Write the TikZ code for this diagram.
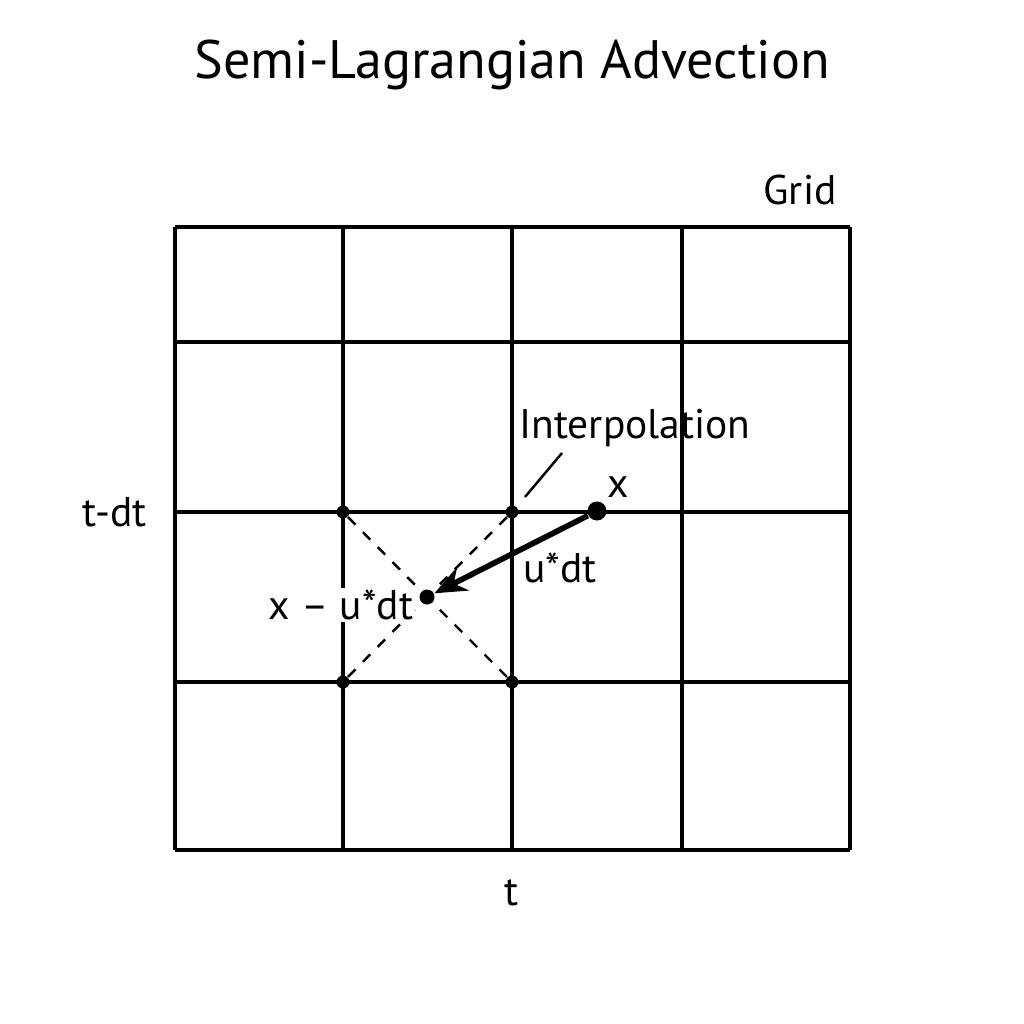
\documentclass[tikz,border=0pt]{standalone}
\usepackage{fontspec}
\setmainfont{PT Sans}
\usetikzlibrary{arrows.meta}

\tikzset{
  gridline/.style={line width=1.1pt},
  smalldot/.style={circle, fill=black, inner sep=0pt, minimum size=1.3mm},
  label/.style={font=\fontsize{11.8}{14}\selectfont}
}

\begin{document}
\begin{tikzpicture}[x=0.1mm, y=-0.1mm]
\useasboundingbox (0,0) rectangle (1024,1024);

\node[font=\fontsize{15.4}{19}\selectfont] (title) at (512,65) {Semi-Lagrangian Advection};
\node[label] (gridlbl) at (800,190) {Grid};

% the grid
\foreach \gx in {175,343,512,682,850}
  \draw[gridline] (\gx,227) -- (\gx,850);
\foreach \gy in {227,342,512,682,850}
  \draw[gridline] (175,\gy) -- (850,\gy);

\node[label] (tdt) at (115,512) {t-dt};
\node[label] (tnow) at (512,893) {t};

% neighbouring grid points
\node[smalldot] (nw) at (343,512) {};
\node[smalldot] (ne) at (512,512) {};
\node[smalldot] (sw) at (343,682) {};
\node[smalldot] (se) at (512,682) {};
\coordinate (depc) at (427,597);

\draw[dashed, line width=0.7pt] (nw) -- (depc);
\draw[dashed, line width=0.7pt] (ne) -- (depc);
\draw[dashed, line width=0.7pt] (sw) -- (depc);
\draw[dashed, line width=0.7pt] (se) -- (depc);

\node[label, fill=white, inner sep=0.5pt] (deplbl) at (341,605) {x – u*dt};

\node[circle, fill=black, inner sep=0pt, minimum size=1.9mm] (xpt) at (597,511) {};
\node[circle, fill=black, inner sep=0pt, minimum size=1.5mm] (dep) at (depc) {};
\draw[-{Stealth[length=3.2mm, width=2.6mm]}, line width=1.6pt] (xpt) -- (dep);

\node[label] (xlbl) at (618,487) {x};
\node[label] (udt) at (560,568) {u*dt};

\node[label] (interp) at (635,428) {Interpolation};
\coordinate (leadtop) at (562,453);
\coordinate (leadend) at (525,497);
\draw[line width=0.7pt] (leadtop) -- (leadend);
\end{tikzpicture}
\end{document}
